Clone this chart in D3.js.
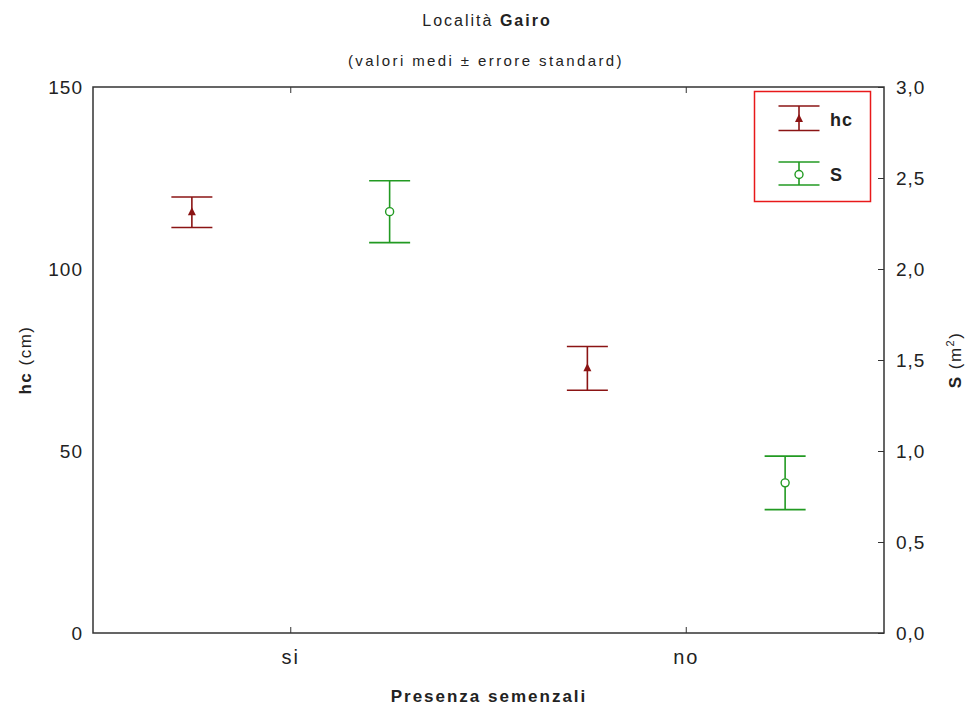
<!DOCTYPE html>
<html>
<head>
<meta charset="utf-8">
<script src="https://cdn.jsdelivr.net/npm/d3@7"></script>
<style>
  body { margin: 0; background: #fff; }
  text { font-family: "Liberation Sans", Arial, sans-serif; fill: #222; }
</style>
</head>
<body>
<svg width="972" height="706"></svg>
<script>
// categories and series (mean, standard error)
const categories = ['si', 'no'];
const hcMean = [115.6, 72.7];
const hcErr = [4.2, 6.0];
const sMean = [2.315, 0.825];
const sErr = [0.17, 0.147];
const leftTicks = [0, 50, 100, 150];
const rightTicks = [0, 0.5, 1.0, 1.5, 2.0, 2.5, 3.0];

const svg = d3.select('svg');
const margin = { top: 87, right: 88, bottom: 73, left: 93 };
const width = 972 - margin.left - margin.right;
const height = 706 - margin.top - margin.bottom;

const hcColor = '#8b1414';
const sColor = '#229a22';

const chart = svg.append('g')
  .attr('transform', `translate(${margin.left}, ${margin.top})`);

const xScale = d3.scaleBand()
  .range([0, width])
  .domain(categories);

const yLeft = d3.scaleLinear().range([height, 0]).domain([0, 150]);
const yRight = d3.scaleLinear().range([height, 0]).domain([0, 3]);

const comma = (d) => d3.format('.1f')(d).replace('.', ',');

// axes
const axisStyle = (g) => {
  g.select('.domain').remove();
  g.selectAll('line').attr('stroke', '#333');
  g.selectAll('text').style('font-size', '19px').style('letter-spacing', '1px').attr('fill', '#222');
};

chart.append('g')
  .attr('transform', `translate(0, ${height})`)
  .call(d3.axisBottom(xScale).tickSizeInner(-6).tickSizeOuter(0).tickPadding(17))
  .call(axisStyle)
  .call((g) => g.selectAll('text').style('font-size', '20px').style('letter-spacing', '2px'));

chart.append('g')
  .call(d3.axisTop(xScale).tickSizeInner(-6).tickSizeOuter(0).tickFormat(''))
  .call(axisStyle);

chart.append('g')
  .call(d3.axisLeft(yLeft).tickValues(leftTicks).tickSizeInner(0).tickSizeOuter(0).tickPadding(10))
  .call(axisStyle);

chart.append('g')
  .attr('transform', `translate(${width}, 0)`)
  .call(d3.axisRight(yRight).tickValues(rightTicks).tickFormat(comma).tickSizeInner(-6).tickSizeOuter(0).tickPadding(12))
  .call(axisStyle);

// frame
chart.append('rect')
  .attr('width', width)
  .attr('height', height)
  .attr('fill', 'none')
  .attr('stroke', '#333')
  .attr('stroke-width', 1.5);

const offset = width * 0.125;
const capHalf = 20.5;

function drawErrorBar(g, cx, yTop, yBot, color) {
  g.append('line').attr('x1', cx).attr('x2', cx).attr('y1', yTop).attr('y2', yBot)
    .attr('stroke', color).attr('stroke-width', 1.6);
  [yTop, yBot].forEach((y) => {
    g.append('line').attr('x1', cx - capHalf).attr('x2', cx + capHalf).attr('y1', y).attr('y2', y)
      .attr('stroke', color).attr('stroke-width', 1.6);
  });
}

function triangle(g, cx, cy, color) {
  g.append('path')
    .attr('d', `M${cx},${cy - 5} L${cx + 4},${cy + 3} L${cx - 4},${cy + 3} Z`)
    .attr('fill', color);
}

function circle(g, cx, cy, color) {
  g.append('circle').attr('cx', cx).attr('cy', cy).attr('r', 4)
    .attr('fill', '#fff').attr('stroke', color).attr('stroke-width', 1.4);
}

const marks = chart.append('g');
categories.forEach((c, i) => {
  const cx = xScale(c) + xScale.bandwidth() / 2;
  const hx = cx - offset;
  drawErrorBar(marks, hx, yLeft(hcMean[i] + hcErr[i]), yLeft(hcMean[i] - hcErr[i]), hcColor);
  triangle(marks, hx, yLeft(hcMean[i]), hcColor);
  const sx = cx + offset;
  drawErrorBar(marks, sx, yRight(sMean[i] + sErr[i]), yRight(sMean[i] - sErr[i]), sColor);
  circle(marks, sx, yRight(sMean[i]), sColor);
});

// legend
const legend = svg.append('g');
legend.append('rect')
  .attr('x', 754.5).attr('y', 91.5).attr('width', 116).attr('height', 110)
  .attr('fill', '#fff').attr('stroke', '#e8191a').attr('stroke-width', 1.5);
drawErrorBar(legend, 799, 106, 130.5, hcColor);
triangle(legend, 799, 119, hcColor);
drawErrorBar(legend, 799, 162, 185, sColor);
circle(legend, 799, 174.5, sColor);
legend.append('text').attr('x', 830).attr('y', 126).style('font-size', '18px').style('font-weight', 'bold').style('letter-spacing', '1px').text('hc');
legend.append('text').attr('x', 830).attr('y', 181).style('font-size', '18px').style('font-weight', 'bold').text('S');

// titles
const title = svg.append('text')
  .attr('x', 487).attr('y', 26).attr('text-anchor', 'middle')
  .style('font-size', '16px').style('letter-spacing', '2px');
title.append('tspan').text('Località ');
title.append('tspan').style('font-weight', 'bold').text('Gairo');

svg.append('text')
  .attr('x', 486).attr('y', 66).attr('text-anchor', 'middle')
  .style('font-size', '15px').style('letter-spacing', '2.4px')
  .text('(valori medi \u00b1 errore standard)');

svg.append('text')
  .attr('x', 489).attr('y', 702).attr('text-anchor', 'middle')
  .style('font-size', '17px').style('font-weight', 'bold').style('letter-spacing', '2px')
  .text('Presenza semenzali');

const yl = svg.append('text')
  .attr('transform', `translate(31, ${margin.top + height / 2}) rotate(-90)`)
  .attr('text-anchor', 'middle').style('font-size', '17px').style('letter-spacing', '1.5px');
yl.append('tspan').style('font-weight', 'bold').text('hc');
yl.append('tspan').text('  (cm)');

const yr = svg.append('text')
  .attr('transform', `translate(961, ${margin.top + height / 2}) rotate(-90)`)
  .attr('text-anchor', 'middle').style('font-size', '17px').style('letter-spacing', '1.5px');
yr.append('tspan').style('font-weight', 'bold').text('S');
yr.append('tspan').text('  (m');
yr.append('tspan').attr('dy', -7).style('font-size', '11px').text('2');
yr.append('tspan').attr('dy', 7).text(')');
</script>
</body>
</html>
